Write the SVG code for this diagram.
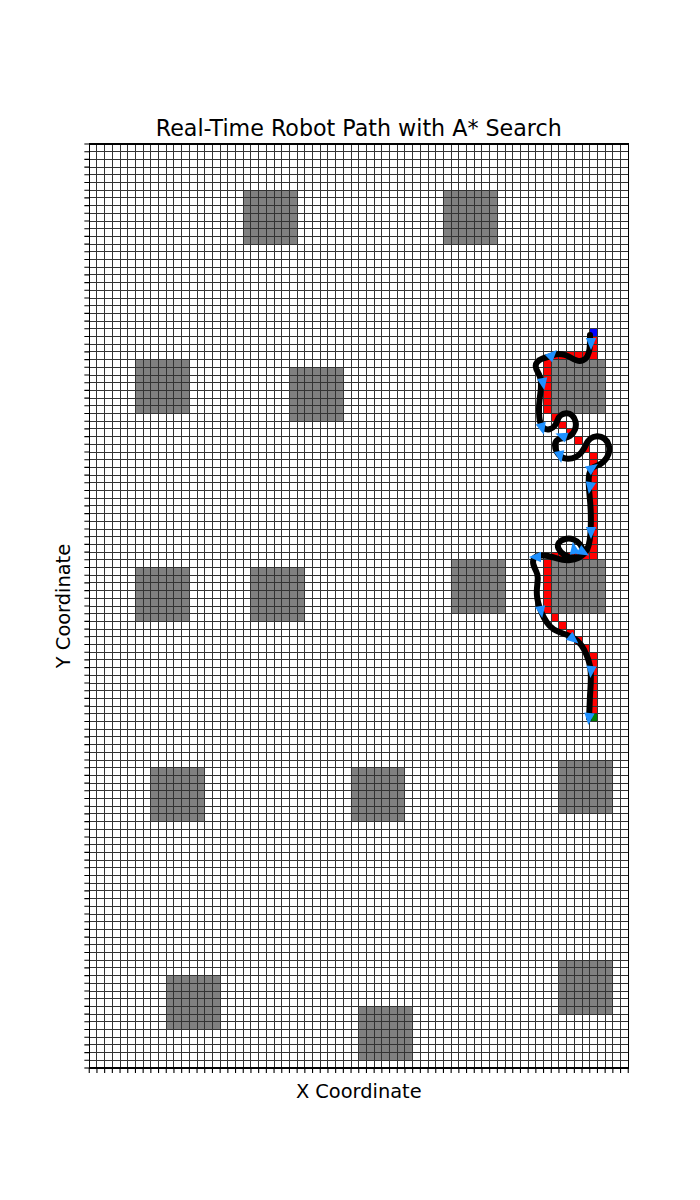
<svg xmlns="http://www.w3.org/2000/svg" xmlns:xlink="http://www.w3.org/1999/xlink" width="700" height="1200" viewBox="0 0 700 1200">
<style>
.obs{fill:#808080;shape-rendering:crispEdges}
.path{fill:#ff0000;shape-rendering:crispEdges}
.grid{fill:none;stroke:#333;stroke-width:1;shape-rendering:crispEdges}
.tick{fill:none;stroke:#000;stroke-width:1.1}
.curve{fill:none;stroke:#000;stroke-width:6;stroke-linejoin:round;stroke-linecap:round}
.arr{fill:#1e90ff}
text{font-family:"DejaVu Sans","Liberation Sans",sans-serif;fill:#000}
</style>
<defs>
<path id="arrow" d="M7,0 L-5,-5.2 L-5,5.2 Z"/>
<path id="v10" d="M0 0v924M7.7 0v924M15.4 0v924M23.1 0v924M30.8 0v924M38.5 0v924M46.2 0v924M53.9 0v924M61.6 0v924M69.3 0v924"/>
<path id="h10" d="M0 0h539M0 7.7h539M0 15.4h539M0 23.1h539M0 30.8h539M0 38.5h539M0 46.2h539M0 53.9h539M0 61.6h539M0 69.3h539"/>
<path id="bt10" d="M0 0v4.9M7.7 0v4.9M15.4 0v4.9M23.1 0v4.9M30.8 0v4.9M38.5 0v4.9M46.2 0v4.9M53.9 0v4.9M61.6 0v4.9M69.3 0v4.9"/>
<path id="lt10" d="M0 0h-4.9M0 7.7h-4.9M0 15.4h-4.9M0 23.1h-4.9M0 30.8h-4.9M0 38.5h-4.9M0 46.2h-4.9M0 53.9h-4.9M0 61.6h-4.9M0 69.3h-4.9"/>
</defs>
<rect width="700" height="1200" fill="#fff"/>
<g id="obstacles">
<rect class="obs" x="243.25" y="190.2" width="53.9" height="53.9"/>
<rect class="obs" x="443.45" y="190.2" width="53.9" height="53.9"/>
<rect class="obs" x="135.45" y="359.6" width="53.9" height="53.9"/>
<rect class="obs" x="289.45" y="367.3" width="53.9" height="53.9"/>
<rect class="obs" x="551.25" y="359.6" width="53.9" height="53.9"/>
<rect class="obs" x="135.45" y="567.5" width="53.9" height="53.9"/>
<rect class="obs" x="250.95" y="567.5" width="53.9" height="53.9"/>
<rect class="obs" x="451.15" y="559.8" width="53.9" height="53.9"/>
<rect class="obs" x="551.25" y="559.8" width="53.9" height="53.9"/>
<rect class="obs" x="150.85" y="767.7" width="53.9" height="53.9"/>
<rect class="obs" x="351.05" y="767.7" width="53.9" height="53.9"/>
<rect class="obs" x="558.95" y="760" width="53.9" height="53.9"/>
<rect class="obs" x="166.25" y="975.6" width="53.9" height="53.9"/>
<rect class="obs" x="358.75" y="1006.4" width="53.9" height="53.9"/>
<rect class="obs" x="558.95" y="960.2" width="53.9" height="53.9"/>
</g>
<g id="astar-path">
<rect class="path" x="589.75" y="336.5" width="7.7" height="23.1"/>
<rect class="path" x="551.25" y="351.9" width="38.5" height="7.7"/>
<rect class="path" x="543.55" y="359.6" width="7.7" height="53.9"/>
<rect class="path" x="551.25" y="413.5" width="7.7" height="7.7"/>
<rect class="path" x="558.95" y="421.2" width="7.7" height="7.7"/>
<rect class="path" x="566.65" y="428.9" width="7.7" height="7.7"/>
<rect class="path" x="574.35" y="436.6" width="7.7" height="7.7"/>
<rect class="path" x="582.05" y="444.3" width="7.7" height="7.7"/>
<rect class="path" x="589.75" y="452" width="7.7" height="7.7"/>
<rect class="path" x="589.75" y="459.7" width="7.7" height="100.1"/>
<rect class="path" x="551.25" y="552.1" width="38.5" height="7.7"/>
<rect class="path" x="543.55" y="559.8" width="7.7" height="53.9"/>
<rect class="path" x="551.25" y="613.7" width="7.7" height="7.7"/>
<rect class="path" x="558.95" y="621.4" width="7.7" height="7.7"/>
<rect class="path" x="566.65" y="629.1" width="7.7" height="7.7"/>
<rect class="path" x="574.35" y="636.8" width="7.7" height="7.7"/>
<rect class="path" x="582.05" y="644.5" width="7.7" height="7.7"/>
<rect class="path" x="589.75" y="652.2" width="7.7" height="7.7"/>
<rect class="path" x="589.75" y="659.9" width="7.7" height="53.9"/>
</g>
<g id="goal"><rect x="589.75" y="328.8" width="7.7" height="7.7" fill="#0000ff" shape-rendering="crispEdges"/></g>
<g id="start"><rect x="589.75" y="713.8" width="7.7" height="7.7" fill="#008000" shape-rendering="crispEdges"/></g>
<g id="grid" class="grid">
<use href="#v10" xlink:href="#v10" x="89.25" y="144"/>
<use href="#v10" xlink:href="#v10" x="166.25" y="144"/>
<use href="#v10" xlink:href="#v10" x="243.25" y="144"/>
<use href="#v10" xlink:href="#v10" x="320.25" y="144"/>
<use href="#v10" xlink:href="#v10" x="397.25" y="144"/>
<use href="#v10" xlink:href="#v10" x="474.25" y="144"/>
<use href="#v10" xlink:href="#v10" x="551.25" y="144"/>
<use href="#h10" xlink:href="#h10" x="89.25" y="144"/>
<use href="#h10" xlink:href="#h10" x="89.25" y="221"/>
<use href="#h10" xlink:href="#h10" x="89.25" y="298"/>
<use href="#h10" xlink:href="#h10" x="89.25" y="375"/>
<use href="#h10" xlink:href="#h10" x="89.25" y="452"/>
<use href="#h10" xlink:href="#h10" x="89.25" y="529"/>
<use href="#h10" xlink:href="#h10" x="89.25" y="606"/>
<use href="#h10" xlink:href="#h10" x="89.25" y="683"/>
<use href="#h10" xlink:href="#h10" x="89.25" y="760"/>
<use href="#h10" xlink:href="#h10" x="89.25" y="837"/>
<use href="#h10" xlink:href="#h10" x="89.25" y="914"/>
<use href="#h10" xlink:href="#h10" x="89.25" y="991"/>
</g>
<g id="connectors">
<path class="curve" d="M590,335 L590,340 Q590,345 589.5,349 Q589,353 587.5,356 Q586,359 583,360.25 Q580,361.5 577,360.5 Q574,359.5 571,357.75 Q568,356 565,355 Q562,354 559,354 Q556,354 553,355.25 Q550,356.5 547,357.25 Q544,358 541.5,359 Q539,360 537.25,362 Q535.5,364 535.75,366.5 Q536,369 537.5,371.5 Q539,374 540,377 Q541,380 541,384 Q541,388 540.5,392 Q540,396 539.5,400.5 Q539,405 539,409 Q539,413 539.25,416.5 Q539.5,420 540.5,423.25 Q541.5,426.5 544,428.25 Q546.5,430 549.5,429.25 Q552.5,428.5 554.5,426 Q556.5,423.5 557.5,420.25 Q558.5,417 560.75,415.25 Q563,413.5 566.25,413.25 Q569.5,413 572,415.25 Q574.5,417.5 575.5,421.5 Q576.5,425.5 575,429.5 Q573.5,433.5 570.25,435.75 Q567,438 563,438.25 Q559,438.5 557,440.25 Q555,442 555,445.25 Q555,448.5 556.5,451.5 Q558,454.5 560.75,456.5 Q563.5,458.5 567.5,458.75 Q571.5,459 575.25,457.25 Q579,455.5 581.5,452.25 Q584,449 585.75,445 Q587.5,441 590.25,438.75 Q593,436.5 597,436.25 Q601,436 604.25,438.5 Q607.5,441 608.75,445.25 Q610,449.5 608.5,454 Q607,458.5 603.75,461.5 Q600.5,464.5 597.25,465.5 Q594,466.5 592,468.25 Q590,470 589.25,474 Q588.5,478 588.75,484 Q589,490 589.75,497.5 Q590.5,505 590.75,512.5 Q591,520 590.75,527.5 Q590.5,535 589.75,540 Q589,545 587.25,549.25 Q585.5,553.5 581.75,555.75 Q578,558 573,557.5 Q568,557 564,554.5 Q560,552 558.5,548.5 Q557,545 559,542.5 Q561,540 565.25,539 Q569.5,538 573.5,539.5 Q577.5,541 580.25,544.5 Q583,548 582.5,552 Q582,556 578.5,558 Q575,560 569,560.25 Q563,560.5 558,558.75 Q553,557 548,556 Q543,555 539,555.75 Q535,556.5 533.75,559 Q532.5,561.5 533.5,564.75 Q534.5,568 536.25,571.5 Q538,575 537.75,579 Q537.5,583 537,588 Q536.5,593 537.25,598 Q538,603 539.75,608 Q541.5,613 544,617.75 Q546.5,622.5 549.75,626 Q553,629.5 558,631.5 Q563,633.5 568,635.25 Q573,637 577.25,640.75 Q581.5,644.5 584,649.5 Q586.5,654.5 588.5,660.25 Q590.5,666 590.75,673 Q591,680 590.5,687.5 Q590,695 589.75,701.5 Q589.5,708 589.25,713 L589,718"/>
<g class="arr">
<use xlink:href="#arrow" href="#arrow" transform="translate(591,343) rotate(90)"/>
<use xlink:href="#arrow" href="#arrow" transform="translate(552,355) rotate(-45)"/>
<use xlink:href="#arrow" href="#arrow" transform="translate(543,383) rotate(80)"/>
<use xlink:href="#arrow" href="#arrow" transform="translate(542,428) rotate(75)"/>
<use xlink:href="#arrow" href="#arrow" transform="translate(562,436) rotate(200)"/>
<use xlink:href="#arrow" href="#arrow" transform="translate(560,456) rotate(80)"/>
<use xlink:href="#arrow" href="#arrow" transform="translate(592,468) rotate(-35)"/>
<use xlink:href="#arrow" href="#arrow" transform="translate(590,487) rotate(100)"/>
<use xlink:href="#arrow" href="#arrow" transform="translate(591,532) rotate(90)"/>
<use xlink:href="#arrow" href="#arrow" transform="translate(574,549) rotate(-100)"/>
<use xlink:href="#arrow" href="#arrow" transform="translate(583,552) rotate(30)"/>
<use xlink:href="#arrow" href="#arrow" transform="translate(536,557) rotate(180)"/>
<use xlink:href="#arrow" href="#arrow" transform="translate(541,611) rotate(80)"/>
<use xlink:href="#arrow" href="#arrow" transform="translate(573,639) rotate(40)"/>
<use xlink:href="#arrow" href="#arrow" transform="translate(591,671) rotate(95)"/>
<use xlink:href="#arrow" href="#arrow" transform="translate(589,718) rotate(95)"/>
</g>
</g>
<g id="axes">
<rect x="89.25" y="144" width="539" height="924" fill="none" stroke="#000" stroke-width="1.1" shape-rendering="crispEdges"/>
<g class="tick">
<use href="#bt10" xlink:href="#bt10" x="89.25" y="1068"/>
<use href="#bt10" xlink:href="#bt10" x="166.25" y="1068"/>
<use href="#bt10" xlink:href="#bt10" x="243.25" y="1068"/>
<use href="#bt10" xlink:href="#bt10" x="320.25" y="1068"/>
<use href="#bt10" xlink:href="#bt10" x="397.25" y="1068"/>
<use href="#bt10" xlink:href="#bt10" x="474.25" y="1068"/>
<use href="#bt10" xlink:href="#bt10" x="551.25" y="1068"/>
<path d="M628.25 1068v4.9"/>
<use href="#lt10" xlink:href="#lt10" x="89.25" y="144"/>
<use href="#lt10" xlink:href="#lt10" x="89.25" y="221"/>
<use href="#lt10" xlink:href="#lt10" x="89.25" y="298"/>
<use href="#lt10" xlink:href="#lt10" x="89.25" y="375"/>
<use href="#lt10" xlink:href="#lt10" x="89.25" y="452"/>
<use href="#lt10" xlink:href="#lt10" x="89.25" y="529"/>
<use href="#lt10" xlink:href="#lt10" x="89.25" y="606"/>
<use href="#lt10" xlink:href="#lt10" x="89.25" y="683"/>
<use href="#lt10" xlink:href="#lt10" x="89.25" y="760"/>
<use href="#lt10" xlink:href="#lt10" x="89.25" y="837"/>
<use href="#lt10" xlink:href="#lt10" x="89.25" y="914"/>
<use href="#lt10" xlink:href="#lt10" x="89.25" y="991"/>
<path d="M89.25 1068h-4.9"/>
</g>
</g>
<g id="labels">
<text x="358.75" y="135.7" font-size="22.2" text-anchor="middle">Real-Time Robot Path with A* Search</text>
<text x="358.75" y="1098" font-size="19.4" text-anchor="middle">X Coordinate</text>
<text transform="translate(69.5,606) rotate(-90)" font-size="19.4" text-anchor="middle">Y Coordinate</text>
</g>
</svg>
